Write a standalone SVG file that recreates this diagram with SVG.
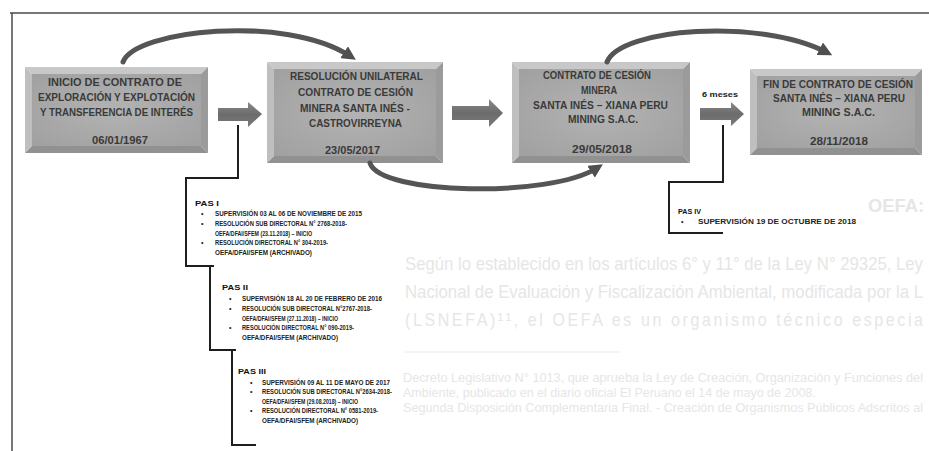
<svg xmlns="http://www.w3.org/2000/svg" width="929" height="451" viewBox="0 0 929 451">
<defs>
<marker id="ah" viewBox="0 0 10 10" refX="5" refY="5" markerWidth="14" markerHeight="14" markerUnits="userSpaceOnUse" orient="auto">
<path d="M0,0 L10,5 L0,10 z" fill="#4f4f4f"/>
</marker>
<linearGradient id="arrG" x1="0" y1="0" x2="0" y2="1">
<stop offset="0" stop-color="#8a8a8a"/><stop offset="0.5" stop-color="#6c6c6c"/><stop offset="1" stop-color="#7a7a7a"/>
</linearGradient>
<radialGradient id="boxG" cx="0.5" cy="0.5" r="0.7">
<stop offset="0" stop-color="#b3b3b3"/><stop offset="1" stop-color="#a0a0a0"/>
</radialGradient>
</defs>
<style>
.bg{font-family:"Liberation Sans",Arial,sans-serif;fill:#e6e6e6}
.bx{font-family:"Liberation Sans",Arial,sans-serif;font-weight:bold;font-size:11px;fill:#3a3a3a}
.pas{font-family:"Liberation Sans",Arial,sans-serif;font-weight:bold;font-size:7px;fill:#222}
.ph{font-family:"Liberation Sans",Arial,sans-serif;font-weight:bold;font-size:8px;fill:#111}
.tp{fill:#c8c8c8}.lf{fill:#bfbfbf}.rt{fill:#9b9b9b}.bt{fill:#919191}
.in{fill:url(#boxG)}
.arr{fill:url(#arrG)}
.crv{fill:none;stroke:#555;stroke-width:5;stroke-linecap:round}
.brk{fill:none;stroke:#1e1e1e;stroke-width:2}
.frm{fill:none;stroke:#4a4a4a;stroke-width:1.5}
</style>

<g id="background-text">
<text class="bg" x="868" y="212" font-size="19" font-weight="bold" textLength="56" lengthAdjust="spacingAndGlyphs">OEFA:</text>
<g transform="translate(0,270) scale(1,1.15)"><text class="bg" x="405" y="0" font-size="16" textLength="518" lengthAdjust="spacingAndGlyphs">Según lo establecido en los artículos 6° y 11° de la Ley N° 29325, Ley</text></g>
<g transform="translate(0,298) scale(1,1.15)"><text class="bg" x="405" y="0" font-size="16" textLength="518" lengthAdjust="spacingAndGlyphs">Nacional de Evaluación y Fiscalización Ambiental, modificada por la L</text></g>
<g transform="translate(0,326) scale(1,1.15)"><text class="bg" x="405" y="0" font-size="16" textLength="518" lengthAdjust="spacing">(LSNEFA)¹¹, el OEFA es un organismo técnico especia</text></g>
<line x1="405" y1="352" x2="620" y2="352" stroke="#e8e8e8" stroke-width="1"/>
<text class="bg" x="403" y="382" font-size="12" textLength="520" lengthAdjust="spacingAndGlyphs">Decreto Legislativo N° 1013, que aprueba la Ley de Creación, Organización y Funciones del</text>
<text class="bg" x="403" y="397" font-size="12.5">Ambiente, publicado en el diario oficial El Peruano el 14 de mayo de 2008.</text>
<text class="bg" x="403" y="412" font-size="12" textLength="520" lengthAdjust="spacingAndGlyphs">Segunda Disposición Complementaria Final. - Creación de Organismos Públicos Adscritos al</text>
</g>

<g id="frame">
<line class="frm" x1="10" y1="13" x2="929" y2="13"/>
<line class="frm" x1="12" y1="13" x2="12" y2="451"/>
</g>

<g id="node-inicio">
<polygon class="tp" points="25,67 208,67 201,74 32,74"/>
<polygon class="lf" points="25,67 32,74 32,146 25,153"/>
<polygon class="rt" points="208,67 208,153 201,146 201,74"/>
<polygon class="bt" points="25,153 32,146 201,146 208,153"/>
<rect class="in" x="32" y="74" width="169" height="72"/>
<text class="bx" x="48" y="86" textLength="134" lengthAdjust="spacingAndGlyphs">INICIO DE CONTRATO DE</text>
<text class="bx" x="38" y="101" textLength="157" lengthAdjust="spacingAndGlyphs">EXPLORACIÓN Y EXPLOTACIÓN</text>
<text class="bx" x="40" y="116" textLength="153" lengthAdjust="spacingAndGlyphs">Y TRANSFERENCIA DE INTERÉS</text>
<text class="bx" x="92" y="144" textLength="56" lengthAdjust="spacingAndGlyphs">06/01/1967</text>
</g>

<g id="node-resolucion">
<polygon class="tp" points="267,62 443,62 436,69 274,69"/>
<polygon class="lf" points="267,62 274,69 274,156 267,163"/>
<polygon class="rt" points="443,62 443,163 436,156 436,69"/>
<polygon class="bt" points="267,163 274,156 436,156 443,163"/>
<rect class="in" x="274" y="69" width="162" height="87"/>
<text class="bx" x="290" y="80" textLength="133" lengthAdjust="spacingAndGlyphs">RESOLUCIÓN UNILATERAL</text>
<text class="bx" x="298" y="96" textLength="115" lengthAdjust="spacingAndGlyphs">CONTRATO DE CESIÓN</text>
<text class="bx" x="300" y="112" textLength="110" lengthAdjust="spacingAndGlyphs">MINERA SANTA INÉS -</text>
<text class="bx" x="309" y="127" textLength="93" lengthAdjust="spacingAndGlyphs">CASTROVIRREYNA</text>
<text class="bx" x="325" y="154" textLength="55" lengthAdjust="spacingAndGlyphs">23/05/2017</text>
</g>

<g id="node-contrato">
<polygon class="tp" points="512,62 690,62 683,69 519,69"/>
<polygon class="lf" points="512,62 519,69 519,156 512,163"/>
<polygon class="rt" points="690,62 690,163 683,156 683,69"/>
<polygon class="bt" points="512,163 519,156 683,156 690,163"/>
<rect class="in" x="519" y="69" width="164" height="87"/>
<text class="bx" x="543" y="79" textLength="108" lengthAdjust="spacingAndGlyphs">CONTRATO DE CESIÓN</text>
<text class="bx" x="581" y="94" textLength="36" lengthAdjust="spacingAndGlyphs">MINERA</text>
<text class="bx" x="533" y="109" textLength="135" lengthAdjust="spacingAndGlyphs">SANTA INÉS – XIANA PERU</text>
<text class="bx" x="568" y="123" textLength="70" lengthAdjust="spacingAndGlyphs">MINING S.A.C.</text>
<text class="bx" x="572" y="153" textLength="60" lengthAdjust="spacingAndGlyphs">29/05/2018</text>
</g>

<g id="node-fin">
<polygon class="tp" points="750,69 922,69 915,76 757,76"/>
<polygon class="lf" points="750,69 757,76 757,148 750,155"/>
<polygon class="rt" points="922,69 922,155 915,148 915,76"/>
<polygon class="bt" points="750,155 757,148 915,148 922,155"/>
<rect class="in" x="757" y="76" width="158" height="72"/>
<text class="bx" x="763" y="88" textLength="150" lengthAdjust="spacingAndGlyphs">FIN DE CONTRATO DE CESIÓN</text>
<text class="bx" x="773" y="102" textLength="132" lengthAdjust="spacingAndGlyphs">SANTA INÉS – XIANA PERU</text>
<text class="bx" x="802" y="116" textLength="73" lengthAdjust="spacingAndGlyphs">MINING S.A.C.</text>
<text class="bx" x="810" y="145" textLength="58" lengthAdjust="spacingAndGlyphs">28/11/2018</text>
</g>

<g id="node-pas1">
<text class="ph" x="195" y="206" textLength="24" lengthAdjust="spacingAndGlyphs">PAS I</text>
<text class="pas" x="201" y="216">•</text>
<text class="pas" x="215" y="216" textLength="147" lengthAdjust="spacingAndGlyphs">SUPERVISIÓN 03 AL 06 DE NOVIEMBRE DE 2015</text>
<text class="pas" x="201" y="226">•</text>
<text class="pas" x="215" y="226" textLength="132" lengthAdjust="spacingAndGlyphs">RESOLUCIÓN SUB DIRECTORAL N° 2768-2018-</text>
<text class="pas" x="215" y="236" textLength="97" lengthAdjust="spacingAndGlyphs">OEFA/DFAI/SFEM (23.11.2018) – INICIO</text>
<text class="pas" x="201" y="245">•</text>
<text class="pas" x="215" y="245" textLength="113" lengthAdjust="spacingAndGlyphs">RESOLUCIÓN DIRECTORAL N° 304-2019-</text>
<text class="pas" x="215" y="255" textLength="97" lengthAdjust="spacingAndGlyphs">OEFA/DFAI/SFEM (ARCHIVADO)</text>
</g>

<g id="node-pas2">
<text class="ph" x="222" y="290" textLength="26" lengthAdjust="spacingAndGlyphs">PAS II</text>
<text class="pas" x="229" y="301">•</text>
<text class="pas" x="242" y="301" textLength="140" lengthAdjust="spacingAndGlyphs">SUPERVISIÓN 18 AL 20 DE FEBRERO DE 2016</text>
<text class="pas" x="229" y="311">•</text>
<text class="pas" x="242" y="311" textLength="130" lengthAdjust="spacingAndGlyphs">RESOLUCIÓN SUB DIRECTORAL N°2767-2018-</text>
<text class="pas" x="242" y="321" textLength="96" lengthAdjust="spacingAndGlyphs">OEFA/DFAI/SFEM (27.11.2018) – INICIO</text>
<text class="pas" x="229" y="330">•</text>
<text class="pas" x="242" y="330" textLength="112" lengthAdjust="spacingAndGlyphs">RESOLUCIÓN DIRECTORAL N° 090-2019-</text>
<text class="pas" x="242" y="340" textLength="96" lengthAdjust="spacingAndGlyphs">OEFA/DFAI/SFEM (ARCHIVADO)</text>
</g>

<g id="node-pas3">
<text class="ph" x="238" y="374" textLength="28" lengthAdjust="spacingAndGlyphs">PAS III</text>
<text class="pas" x="250" y="385">•</text>
<text class="pas" x="262" y="385" textLength="128" lengthAdjust="spacingAndGlyphs">SUPERVISIÓN 09 AL 11 DE MAYO DE 2017</text>
<text class="pas" x="250" y="394">•</text>
<text class="pas" x="262" y="394" textLength="130" lengthAdjust="spacingAndGlyphs">RESOLUCIÓN SUB DIRECTORAL N°2634-2018-</text>
<text class="pas" x="262" y="404" textLength="96" lengthAdjust="spacingAndGlyphs">OEFA/DFAI/SFEM (29.08.2018) – INICIO</text>
<text class="pas" x="250" y="413">•</text>
<text class="pas" x="262" y="413" textLength="116" lengthAdjust="spacingAndGlyphs">RESOLUCIÓN DIRECTORAL N° 0581-2019-</text>
<text class="pas" x="262" y="423" textLength="96" lengthAdjust="spacingAndGlyphs">OEFA/DFAI/SFEM (ARCHIVADO)</text>
</g>

<g id="node-pas4">
<text class="ph" x="678" y="214" textLength="23" lengthAdjust="spacingAndGlyphs">PAS IV</text>
<text class="pas" x="681" y="224">•</text>
<text class="pas" x="698" y="224" textLength="158" lengthAdjust="spacingAndGlyphs">SUPERVISIÓN 19 DE OCTUBRE DE 2018</text>
</g>

<g id="connectors">
<polygon class="arr" points="218,108 248,108 248,102 262,114 248,127 248,121 218,121"/>
<polygon class="arr" points="452,106 489,106 489,99 503,113 489,127 489,120 452,120"/>
<polygon class="arr" points="700,108 731,108 731,102 744,114 731,126 731,120 700,120"/>
<text class="pas" x="702" y="97" font-size="7.5" textLength="36" lengthAdjust="spacingAndGlyphs">6 meses</text>
<path class="crv" d="M123,62 C135,30 285,14 350,56" marker-end="url(#ah)"/>
<path class="crv" d="M370,163 C380,195 550,198 597,168" marker-end="url(#ah)"/>
<path class="crv" d="M607,62 C620,28 760,18 826,52" marker-end="url(#ah)"/>
<path class="brk" d="M238,125 V178 H186 V266 H214"/>
<path class="brk" d="M210,266 V350 H236"/>
<path class="brk" d="M232,350 V445 H256"/>
<path class="brk" d="M723,125 V182 H669 V233 H723"/>
</g>
</svg>
